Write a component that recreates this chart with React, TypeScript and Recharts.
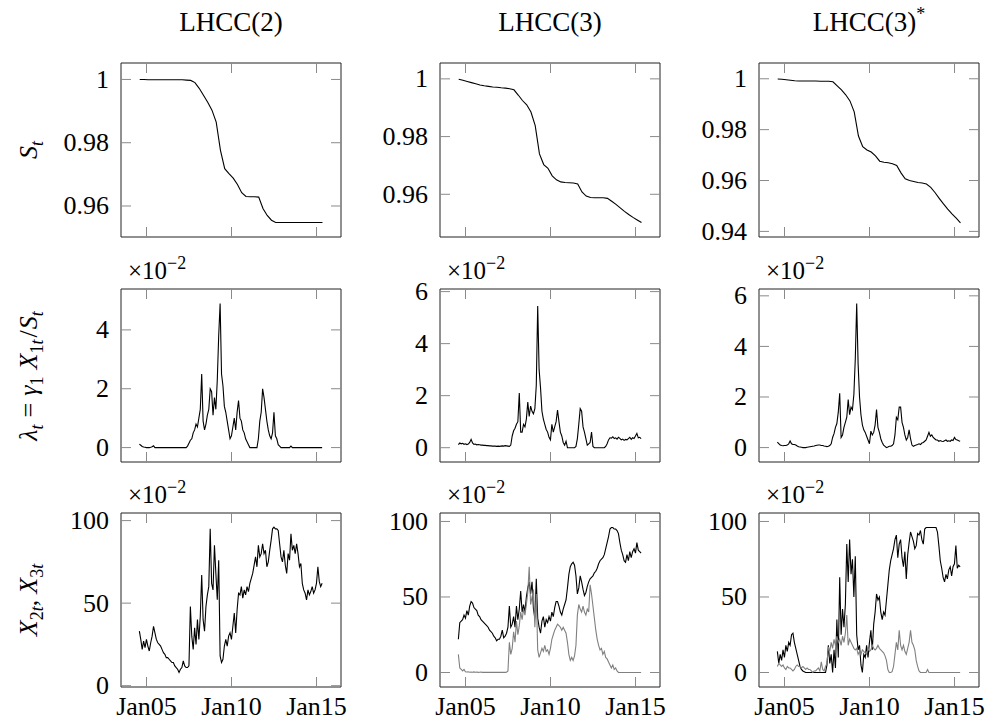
import React from "react";
import { LineChart, Line, XAxis, YAxis } from "recharts";

// time grids (decimal years)
const quarters = Array.from({ length: 44 }, (_, j) => 2004.6 + 0.25 * j);
const months = Array.from({ length: 130 }, (_, i) => 2004.58 + i / 12);

const xTicks = [2005, 2010, 2015];
const xTickLabels = ["Jan05", "Jan10", "Jan15"];
const colTitles = ["LHCC(2)", "LHCC(3)", "LHCC(3)"];

// S_t
const survLHCC2 = [
  1.0, 1.0, 0.9999, 0.9999, 0.9999, 0.9999, 0.9999, 0.9999, 0.9999, 0.9999,
  0.9999, 0.9998, 0.9997, 0.999, 0.9972, 0.995, 0.9928, 0.9903, 0.9865, 0.9776,
  0.9718, 0.9702, 0.9688, 0.9668, 0.9642, 0.963, 0.9629, 0.9629, 0.9628, 0.9592,
  0.957, 0.9555, 0.9548, 0.9548, 0.9548, 0.9548, 0.9548, 0.9548, 0.9548, 0.9548,
  0.9548, 0.9548, 0.9548, 0.9548,
];
const survLHCC3 = [
  0.9999, 0.9995, 0.9991, 0.9987, 0.9983, 0.9979, 0.9976, 0.9974, 0.9972, 0.9971,
  0.9969, 0.9968, 0.9966, 0.9962, 0.9944, 0.9925, 0.991, 0.9885, 0.9838, 0.974,
  0.9703, 0.969, 0.9664, 0.965, 0.9643, 0.9641, 0.964, 0.9639, 0.9636, 0.9608,
  0.9594, 0.9589, 0.9588, 0.9588, 0.9588, 0.9586, 0.9576, 0.9565, 0.9553, 0.9541,
  0.953, 0.952, 0.9511, 0.9502,
];
const survLHCC3s = [
  0.9999, 0.9998, 0.9996, 0.9994, 0.9992, 0.9991, 0.9991, 0.9991, 0.9991, 0.9991,
  0.999, 0.999, 0.999, 0.9988, 0.9972, 0.9956, 0.9937, 0.9913, 0.987, 0.9775,
  0.9733, 0.972, 0.9712, 0.9697, 0.9676, 0.9672, 0.967, 0.9666, 0.9659, 0.963,
  0.9607, 0.96, 0.9596, 0.9592, 0.959, 0.9586, 0.9573, 0.9553, 0.953, 0.9508,
  0.9488, 0.9469, 0.9452, 0.9434,
];

// lambda_t (x 10^-2)
const lamLHCC2 = [
  0.12, 0.08, 0.04, 0.02, 0.01, 0, 0, 0, 0.01, 0.03,
  0.06, 0, 0, 0, 0, 0, 0, 0, 0, 0,
  0, 0, 0, 0, 0, 0, 0, 0, 0, 0,
  0, 0, 0, 0, 0.05, 0.15, 0.25, 0.3, 0.5, 0.6,
  0.8, 0.7, 1.0, 1.3, 2.5, 0.9, 0.6, 0.8, 1.1, 1.3,
  2.0, 1.9, 1.1, 1.7, 1.3, 2.3, 3.8, 4.9, 2.5, 2.1,
  1.4, 1.2, 0.9, 0.6, 0.3, 0.4, 0.7, 1.0, 0.6, 1.2,
  1.6, 1.0, 0.9, 0.6, 0.5, 0.3, 0.2, 0.1, 0, 0,
  0, 0, 0, 0, 0.3, 0.9, 1.2, 2.0, 1.7, 1.3,
  0.9, 0.6, 0.4, 0.3, 0.5, 1.2, 0.4, 0.3, 0.1, 0.05,
  0, 0, 0, 0, 0, 0, 0, 0.05, 0, 0,
  0, 0, 0, 0, 0, 0, 0, 0, 0, 0,
  0, 0, 0, 0, 0, 0, 0, 0, 0, 0,
];
const lamLHCC3 = [
  0.12, 0.18, 0.15, 0.17, 0.13, 0.15, 0.12, 0.14, 0.2, 0.32,
  0.18, 0.13, 0.14, 0.11, 0.12, 0.11, 0.1, 0.1, 0.09, 0.09,
  0.08, 0.08, 0.07, 0.07, 0.06, 0.06, 0.06, 0.05, 0.06, 0.05,
  0.06, 0.07, 0.06, 0.08, 0.07, 0.06, 0.05, 0.1, 0.45, 0.65,
  0.75, 0.9, 1.0, 2.1, 0.6, 0.6, 0.9, 0.8, 1.1, 1.75,
  1.2, 1.6, 1.4, 1.3, 1.5, 2.4, 5.45, 3.0, 2.3, 1.4,
  1.1, 0.9, 0.7, 0.6, 0.4, 0.3, 0.9, 0.6, 0.8, 1.0,
  1.45, 1.0, 0.6, 0.45, 0.2, 0.1, 0.25, 0, 0, 0,
  0, 0, 0, 0.05, 0.35, 0.9, 1.5, 1.4, 0.8, 0.6,
  0.35, 0.1, 0.15, 0.2, 0.6, 0.05, 0, 0, 0, 0,
  0, 0, 0, 0, 0.05, 0.15, 0.3, 0.38, 0.37, 0.42,
  0.35, 0.38, 0.33, 0.4, 0.36, 0.3, 0.33, 0.28, 0.32, 0.3,
  0.35, 0.4, 0.32, 0.38, 0.35, 0.45, 0.55, 0.38, 0.4, 0.35,
];
const lamLHCC3s = [
  0.22, 0.16, 0.1, 0.08, 0.07, 0.08, 0.08, 0.1, 0.15, 0.26,
  0.15, 0.12, 0.12, 0.1, 0.06, 0.03, 0.02, 0.01, 0, 0,
  0, 0.01, 0.02, 0.03, 0.04, 0.05, 0.06, 0.08, 0.09, 0.1,
  0.1, 0.08, 0.08, 0.06, 0.05, 0.04, 0.05, 0.08, 0.15, 0.4,
  0.55, 0.8, 0.95, 1.4, 2.15, 0.4, 0.5, 0.8, 1.0, 1.2,
  1.9, 1.3, 1.6, 1.5, 2.1, 3.5, 5.7, 3.3, 2.0, 1.3,
  0.9, 0.7, 0.6, 0.45, 0.3, 0.15, 0.65, 0.5, 0.6, 0.9,
  1.5, 0.8, 0.6, 0.35, 0.2, 0.1, 0.05, 0, 0.02, 0.05,
  0.05, 0.08, 0.15, 0.5, 1.2, 1.1, 1.6, 1.6, 1.0, 0.8,
  0.5, 0.3, 0.4, 0.7, 0.35, 0.1, 0.05, 0.08, 0.1, 0.12,
  0.15, 0.12, 0.18, 0.2, 0.25, 0.3, 0.45, 0.6, 0.45, 0.5,
  0.4, 0.35, 0.3, 0.3, 0.25, 0.28, 0.25, 0.24, 0.27, 0.3,
  0.25, 0.27, 0.25, 0.3, 0.28, 0.4, 0.32, 0.3, 0.27, 0.25,
];

// X_2t (black) and X_3t (gray), x 10^-2
const x2LHCC2 = [
  33, 28, 22, 27, 23, 28, 24, 21, 26, 30,
  36, 32, 28, 26, 25, 24, 22, 20, 19, 17,
  17, 16, 15, 14, 14, 12, 11, 10, 8, 10,
  11, 15, 12, 11, 11, 12, 48, 30, 22, 35,
  25, 40, 28, 42, 67, 40, 33, 48, 55, 60,
  95, 62, 58, 85, 68, 52, 76, 18, 14, 16,
  24, 28, 24, 30, 32, 28, 36, 44, 32, 46,
  56, 55, 60, 53, 58, 55, 60, 57, 62, 65,
  68, 73, 78, 72, 85, 78, 80, 86, 80, 82,
  72, 75, 82, 88, 95, 96, 95, 95, 94, 86,
  78, 75, 82, 73, 68, 80, 76, 92, 82, 85,
  80, 86, 80, 72, 74, 62, 58, 56, 52, 58,
  55, 57, 60, 56, 58, 62, 72, 63, 60, 62,
];
const x2LHCC3 = [
  22, 33, 34, 35, 38, 36, 41, 38, 44, 47,
  46, 43, 42, 41, 38, 37, 35, 34, 33, 32,
  31, 30, 28, 27, 26, 24, 23, 21, 22, 22,
  24, 28, 23, 24, 26, 30, 44, 30, 32, 37,
  30, 44, 35, 42, 54, 40, 45, 40, 50, 56,
  60, 52, 60, 42, 36, 62, 36, 30, 26, 34,
  37, 30, 35, 33, 37, 34, 40, 37, 43, 47,
  47, 44, 40, 38, 42, 45, 48, 56, 65, 70,
  72, 73, 71, 64, 52, 56, 64, 60, 55, 51,
  53, 57, 60, 62, 63, 64, 66, 67, 69, 72,
  74, 75, 76, 78, 82, 86, 90, 95, 96, 96,
  95, 95, 94, 92, 86, 81, 78, 74, 73, 78,
  74, 80, 76, 80, 82, 79, 86, 81, 80, 79,
];
const x3LHCC3 = [
  12, 3, 2, 1, 2, 0.5, 0.3, 0.5, 0.2, 0.3,
  0.2, 0.4, 0.2, 0.3, 0.1, 0.2, 0.3, 0.1, 0.2, 0.1,
  0.2, 0.1, 0.1, 0.2, 0.1, 0.1, 0.1, 0.2, 0.1, 0.1,
  0.1, 0.2, 0.1, 0.1, 0.2, 1, 20, 12, 16, 27,
  20, 34, 25, 31, 40, 35, 42, 38, 45, 53,
  70, 45, 50, 55, 30, 52, 15, 10, 13, 16,
  14, 18, 14, 15, 12, 16, 22, 25, 28, 30,
  32, 31, 30, 28, 30, 28, 26, 20, 12, 8,
  10, 8, 11, 18, 38, 45, 42, 40, 44, 40,
  38, 42, 40, 58, 52, 44, 36, 28, 22, 18,
  15, 16, 12, 14, 10, 9, 7, 5, 3, 5,
  2, 3, 1, 0, 0, 0, 0, 0, 0, 0,
  0, 0, 0, 0, 0, 0, 0, 0, 0, 0,
];
const x2LHCC3s = [
  14, 6, 12, 8, 15, 10, 18, 14, 20, 18,
  25, 26, 20, 16, 12, 8, 4, 2, 1, 0.5,
  0, 0, 0, 0, 0, 0, 0, 0, 0, 0,
  0, 0, 0, 0, 0, 5, 18, 6, 12, 0,
  15, 3, 35, 10, 63, 25, 42, 30, 45, 85,
  60, 88, 65, 75, 50, 77, 25, 15, 18, 5,
  0, 12, 10, 18, 10, 20, 28, 15, 32, 40,
  52, 48, 50, 40, 35, 40, 38, 48, 58, 68,
  74, 78, 82, 88, 91, 76, 85, 88, 76, 70,
  80, 62, 78, 86, 93, 90, 87, 82, 84, 92,
  91, 94, 88, 85, 95, 96, 96, 96, 96, 96,
  96, 96, 96, 93, 84, 74, 69, 63, 60, 65,
  62, 68, 70, 64, 70, 72, 84, 69, 71, 70,
];
const x3LHCC3s = [
  4, 6, 5, 4, 5, 3, 2, 4, 3, 3,
  2, 1, 2, 4, 5, 4, 4, 3, 4, 3,
  2, 3, 2, 2, 1, 0, 1, 1, 2, 3,
  1, 7, 2, 1, 4, 6, 17, 14, 20, 16,
  22, 18, 24, 20, 22, 18, 24, 20, 26, 38,
  18, 22, 20, 18, 16, 15, 16, 12, 14, 12,
  15, 14, 13, 12, 16, 14, 15, 18, 16, 15,
  16, 18, 16, 15, 14, 13, 11, 8, 2, 0,
  0, 0.5, 4, 12, 20, 15, 28, 18, 15, 18,
  14, 12, 16, 20, 28, 20, 18, 15, 8, 4,
  1, 0, 0, 0, 0, 0, 2, 0, 0, 0,
  0, 0, 0, 0, 0, 0, 0, 0, 0, 0,
  0, 0, 0, 0, 0, 0, 0, 0, 0, 0,
];

const FONT = "Liberation Serif, DejaVu Serif, serif";
const TICK_LEN = 10;
const TICK_COLOR = "#8a8a8a";
const FRAME = "#222";
const BLACK = "#000";
const GRAY = "#808080";

const X_DOMAIN: [number, number] = [2003.5, 2016.44];
const PLOT_W = 220;
const Y_AXIS_W = 110;
const EDGE = 24;
const X_AXIS_H = 40;
const colLeft = [121, 440, 759];
const rowTop = [63, 289, 513];
const rowHeight = [174, 173, 174];

type Series = { values: number[]; color: string };

const xLabel = (v: number) => xTickLabels[xTicks.indexOf(v)] ?? "";
const txt = { fontFamily: FONT, fontSize: 26 };

const bottomTick = (show: boolean) => (p: any) => (
  <g>
    <line x1={p.x} x2={p.x} y1={p.y} y2={p.y - TICK_LEN} stroke={TICK_COLOR} />
    {show ? (
      <text x={p.x} y={p.y + 28} textAnchor="middle" style={txt} fill="#000">
        {xLabel(p.payload.value)}
      </text>
    ) : null}
  </g>
);
const topTick = (p: any) => (
  <line x1={p.x} x2={p.x} y1={p.y} y2={p.y + TICK_LEN} stroke={TICK_COLOR} />
);
const leftTick = (p: any) => (
  <g>
    <line x1={p.x} x2={p.x + TICK_LEN} y1={p.y} y2={p.y} stroke={TICK_COLOR} />
    <text x={p.x - 12} y={p.y + 8.5} textAnchor="end" style={txt} fill="#000">
      {String(p.payload.value)}
    </text>
  </g>
);
const rightTick = (p: any) => (
  <line x1={p.x} x2={p.x - TICK_LEN} y1={p.y} y2={p.y} stroke={TICK_COLOR} />
);

function Panel({
  col,
  row,
  times,
  series,
  yDomain,
  yTicks,
}: {
  col: number;
  row: number;
  times: number[];
  series: Series[];
  yDomain: [number, number];
  yTicks: number[];
}) {
  const data = times.map((t, i) => {
    const d: any = { t };
    series.forEach((s, k) => (d["s" + k] = s.values[i]));
    return d;
  });
  const h = rowHeight[row];
  return (
    <div style={{ position: "absolute", left: colLeft[col] - Y_AXIS_W, top: rowTop[row] - EDGE }}>
      <LineChart
        width={Y_AXIS_W + PLOT_W + EDGE}
        height={EDGE + h + X_AXIS_H}
        data={data}
        margin={{ top: 0, right: 0, bottom: 0, left: 0 }}
      >
        <XAxis
          xAxisId="b"
          type="number"
          dataKey="t"
          domain={X_DOMAIN}
          allowDataOverflow
          ticks={xTicks}
          interval={0}
          height={X_AXIS_H}
          tickSize={0}
          tickMargin={0}
          tickLine={false}
          axisLine={{ stroke: FRAME }}
          tick={bottomTick(row === 2)}
        />
        <XAxis
          xAxisId="t"
          orientation="top"
          type="number"
          dataKey="t"
          domain={X_DOMAIN}
          allowDataOverflow
          ticks={xTicks}
          interval={0}
          height={EDGE}
          tickSize={0}
          tickMargin={0}
          tickLine={false}
          axisLine={{ stroke: FRAME }}
          tick={topTick}
        />
        <YAxis
          yAxisId="l"
          type="number"
          domain={yDomain}
          allowDataOverflow
          ticks={yTicks}
          interval={0}
          width={Y_AXIS_W}
          tickSize={0}
          tickMargin={0}
          tickLine={false}
          axisLine={{ stroke: FRAME }}
          tick={leftTick}
        />
        <YAxis
          yAxisId="r"
          orientation="right"
          type="number"
          domain={yDomain}
          allowDataOverflow
          ticks={yTicks}
          interval={0}
          width={EDGE}
          tickSize={0}
          tickMargin={0}
          tickLine={false}
          axisLine={{ stroke: FRAME }}
          tick={rightTick}
        />
        {series.map((s, k) => (
          <Line
            key={k}
            xAxisId="b"
            yAxisId="l"
            type="linear"
            dataKey={"s" + k}
            stroke={s.color}
            strokeWidth={1.1}
            dot={false}
            activeDot={false}
            isAnimationActive={false}
          />
        ))}
      </LineChart>
    </div>
  );
}

const Sub = ({ children, italic = true }: { children: React.ReactNode; italic?: boolean }) => (
  <tspan fontSize={18} dy={6} fontStyle={italic ? "italic" : "normal"}>
    {children}
  </tspan>
);

function Labels() {
  const centers = colLeft.map((l) => l + PLOT_W / 2);
  return (
    <svg
      width={992}
      height={721}
      style={{ position: "absolute", left: 0, top: 0, pointerEvents: "none", fontFamily: FONT }}
      fill="#000"
    >
      {colTitles.map((t, c) => (
        <text key={t + c} x={centers[c]} y={31} textAnchor="middle" fontSize={27}>
          {t}
          {c === 2 ? (
            <tspan fontSize={18} dy={-11}>
              *
            </tspan>
          ) : null}
        </text>
      ))}
      {[1, 2].map((r) =>
        colLeft.map((l, c) => (
          <text key={r + "-" + c} x={l + 7} y={rowTop[r] - 10} fontSize={25}>
            ×10
            <tspan fontSize={18} dy={-10}>
              −2
            </tspan>
          </text>
        ))
      )}
      <text transform="translate(37,150) rotate(-90)" textAnchor="middle" fontSize={26}>
        <tspan fontStyle="italic">S</tspan>
        <Sub>t</Sub>
      </text>
      <text transform="translate(37,376) rotate(-90)" textAnchor="middle" fontSize={26}>
        <tspan fontStyle="italic">λ</tspan>
        <Sub>t</Sub>
        <tspan dy={-6} dx={7}>=</tspan>
        <tspan dx={7} fontStyle="italic">γ</tspan>
        <Sub italic={false}>1</Sub>
        <tspan dy={-6} dx={7} fontStyle="italic">X</tspan>
        <tspan fontSize={18} dy={6}>1</tspan>
        <tspan fontSize={18} fontStyle="italic">t</tspan>
        <tspan dy={-6} dx={2}>/</tspan>
        <tspan dx={1} fontStyle="italic">S</tspan>
        <Sub>t</Sub>
      </text>
      <text transform="translate(37,600) rotate(-90)" textAnchor="middle" fontSize={26}>
        <tspan fontStyle="italic">X</tspan>
        <tspan fontSize={18} dy={6}>2</tspan>
        <tspan fontSize={18} fontStyle="italic">t</tspan>
        <tspan dy={-6}>,</tspan>
        <tspan dx={6} fontStyle="italic">X</tspan>
        <tspan fontSize={18} dy={6}>3</tspan>
        <tspan fontSize={18} fontStyle="italic">t</tspan>
      </text>
    </svg>
  );
}

export default function App() {
  const s0: [number, number][] = [
    [0.9502, 1.0052],
    [0.9452, 1.0055],
    [0.9378, 1.0062],
  ];
  return (
    <div style={{ position: "absolute", left: 0, top: 0, width: 992, height: 721, background: "#fff" }}>
      <Panel col={0} row={0} times={quarters} series={[{ values: survLHCC2, color: BLACK }]} yDomain={s0[0]} yTicks={[0.96, 0.98, 1]} />
      <Panel col={1} row={0} times={quarters} series={[{ values: survLHCC3, color: BLACK }]} yDomain={s0[1]} yTicks={[0.96, 0.98, 1]} />
      <Panel col={2} row={0} times={quarters} series={[{ values: survLHCC3s, color: BLACK }]} yDomain={s0[2]} yTicks={[0.94, 0.96, 0.98, 1]} />

      <Panel col={0} row={1} times={months} series={[{ values: lamLHCC2, color: BLACK }]} yDomain={[-0.49, 5.39]} yTicks={[0, 2, 4]} />
      <Panel col={1} row={1} times={months} series={[{ values: lamLHCC3, color: BLACK }]} yDomain={[-0.55, 6.1]} yTicks={[0, 2, 4, 6]} />
      <Panel col={2} row={1} times={months} series={[{ values: lamLHCC3s, color: BLACK }]} yDomain={[-0.57, 6.27]} yTicks={[0, 2, 4, 6]} />

      <Panel col={0} row={2} times={months} series={[{ values: x2LHCC2, color: BLACK }]} yDomain={[-0.8, 104.6]} yTicks={[0, 50, 100]} />
      <Panel
        col={1}
        row={2}
        times={months}
        series={[
          { values: x2LHCC3, color: BLACK },
          { values: x3LHCC3, color: GRAY },
        ]}
        yDomain={[-9.6, 105.6]}
        yTicks={[0, 50, 100]}
      />
      <Panel
        col={2}
        row={2}
        times={months}
        series={[
          { values: x2LHCC3s, color: BLACK },
          { values: x3LHCC3s, color: GRAY },
        ]}
        yDomain={[-9.6, 105.6]}
        yTicks={[0, 50, 100]}
      />
      <Labels />
    </div>
  );
}
